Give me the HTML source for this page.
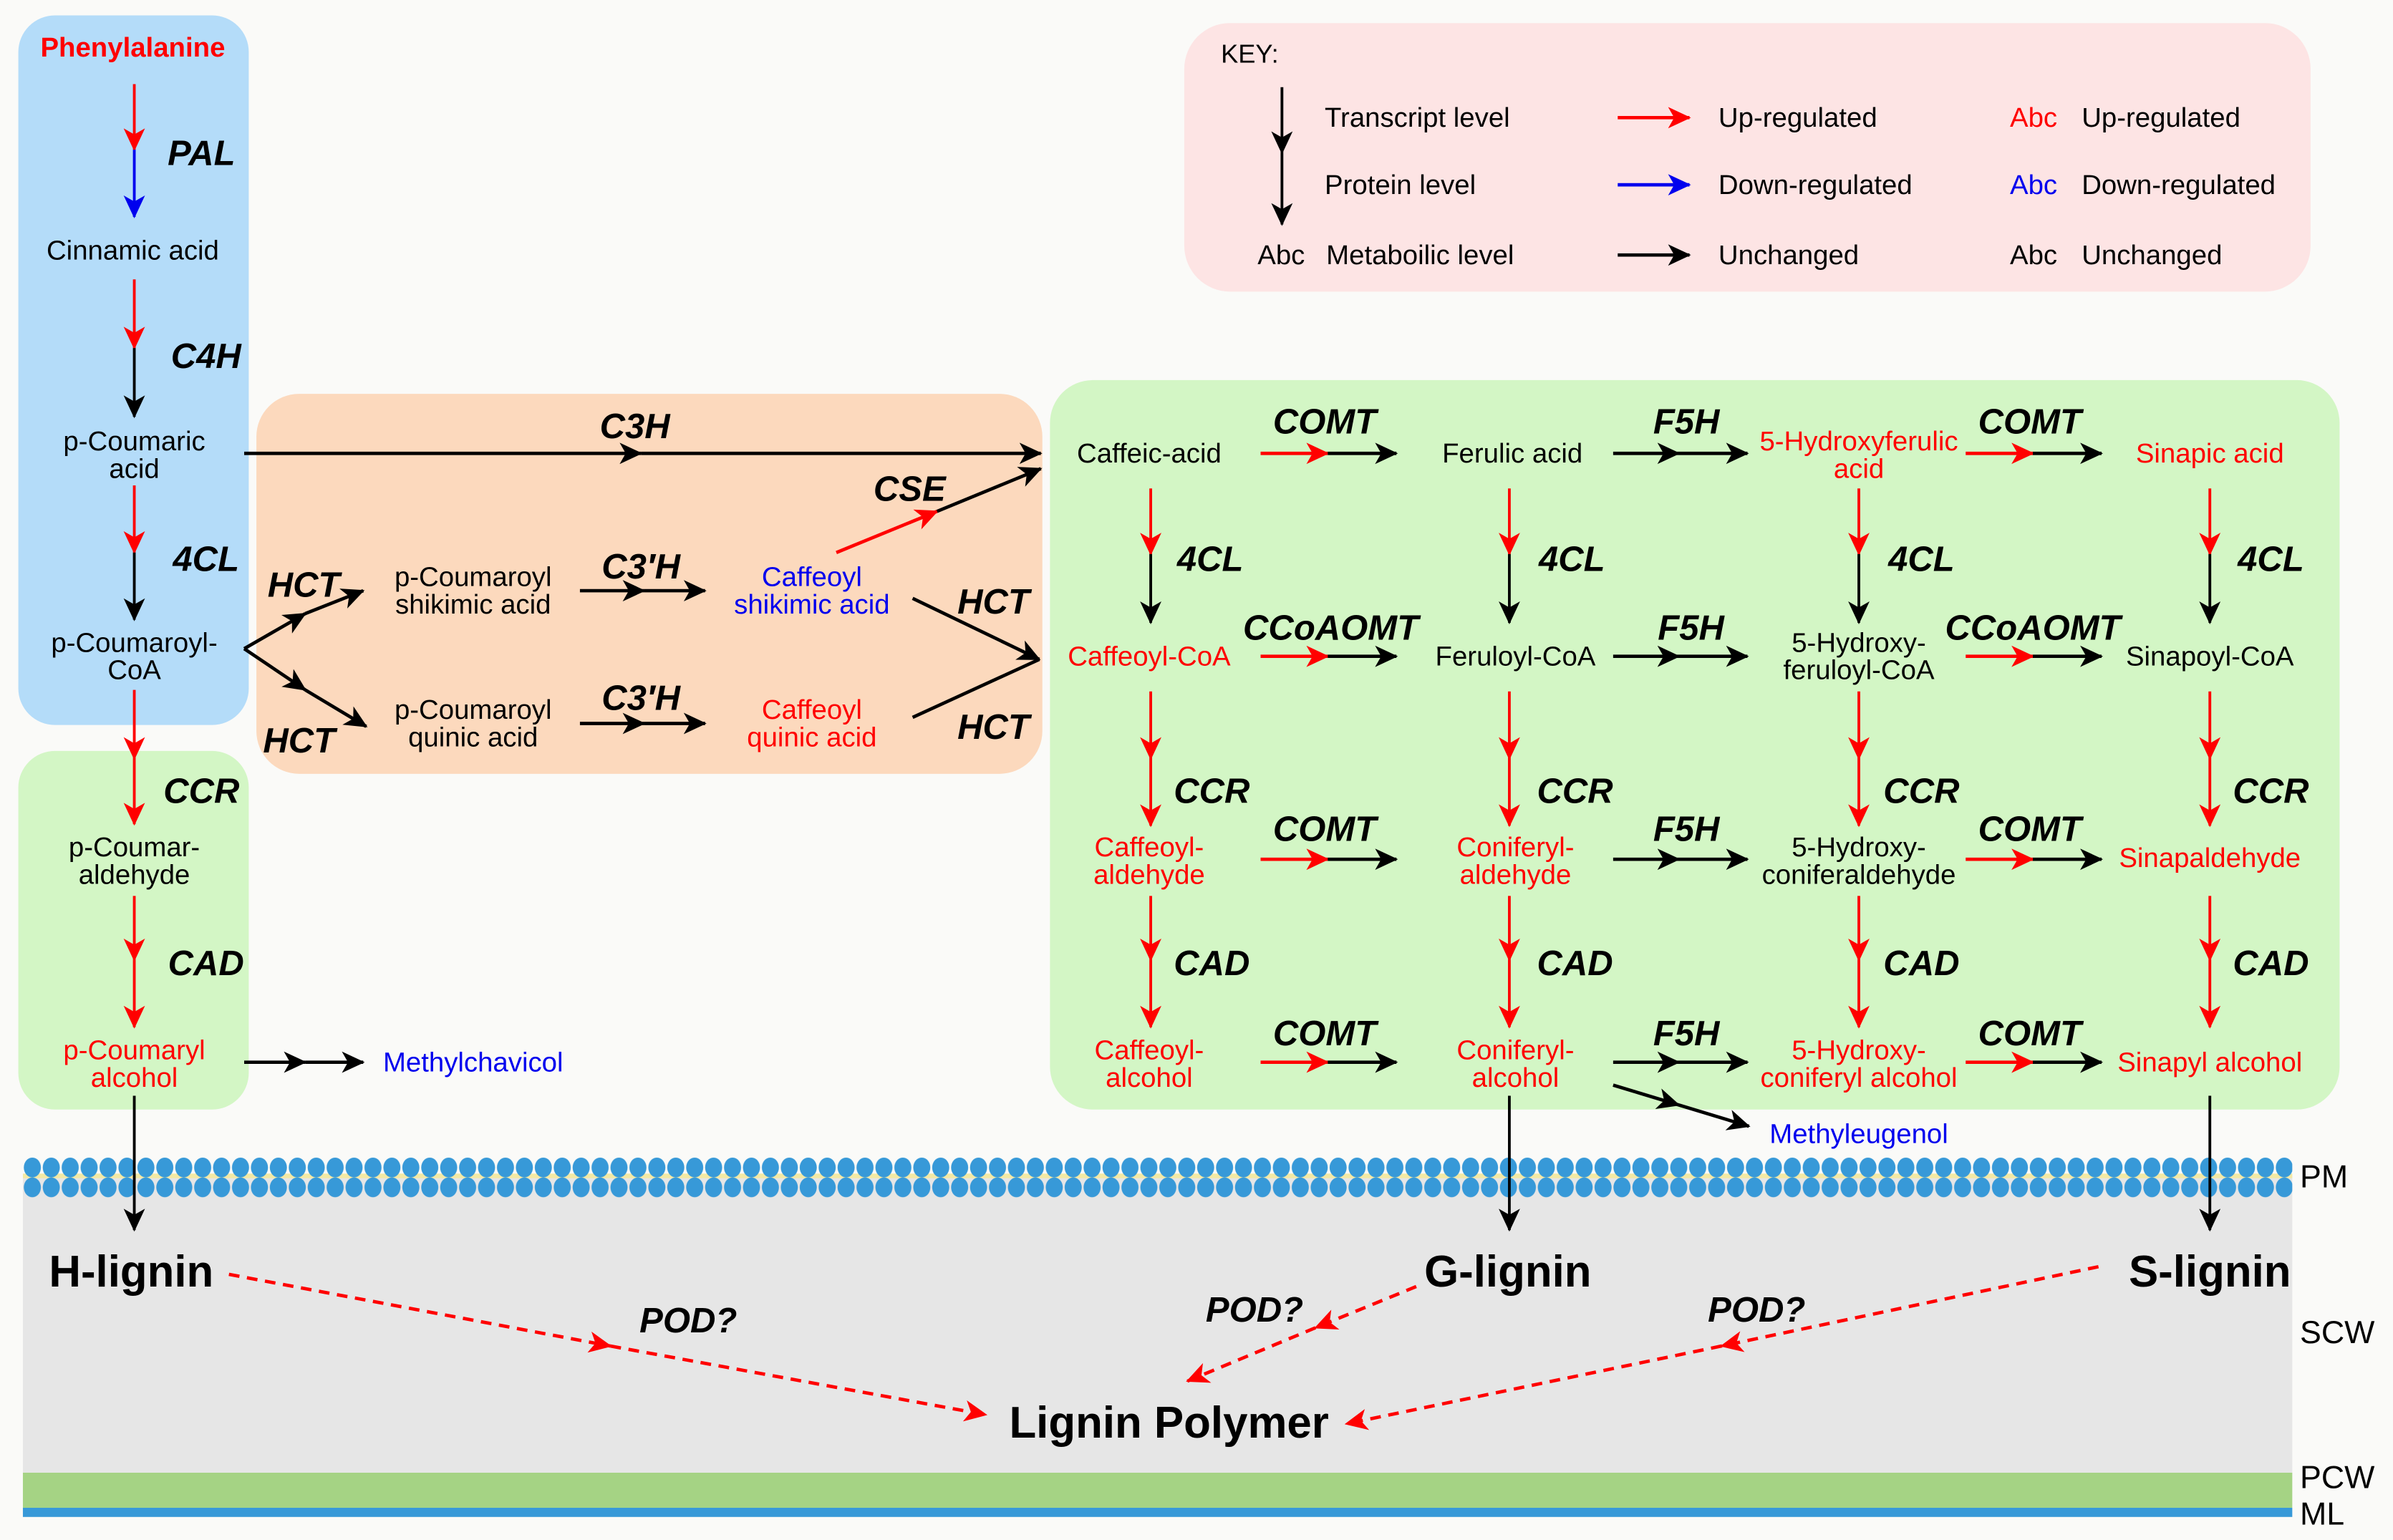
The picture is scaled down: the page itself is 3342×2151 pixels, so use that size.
<!DOCTYPE html>
<html><head><meta charset="utf-8"><style>
html,body{margin:0;padding:0;background:#fafaf8}
svg{display:block}
text{font-family:"Liberation Sans",Arial,sans-serif;text-anchor:middle}
.n{font-size:18px}
.e{font-size:23px;font-weight:bold;font-style:italic}
.r{fill:#f00}.b{fill:#0000ee}
.k{font-size:18px;text-anchor:start}
.L{font-size:29px;font-weight:bold}
.lab{font-size:21px;text-anchor:start}
.a{stroke-width:2.2;fill:none}
.v{stroke-width:1.8;fill:none}
</style></head><body>
<svg width="3342" height="2151" viewBox="0 0 1568 1009" xmlns="http://www.w3.org/2000/svg">
<defs>
<marker id="mk" markerUnits="userSpaceOnUse" markerWidth="20" markerHeight="16" refX="14" refY="7" orient="auto"><path d="M0,0 L15,7 L0,14 L4,7 z" fill="#000"/></marker>
<marker id="mr" markerUnits="userSpaceOnUse" markerWidth="20" markerHeight="16" refX="14" refY="7" orient="auto"><path d="M0,0 L15,7 L0,14 L4,7 z" fill="#f00"/></marker>
<marker id="mb" markerUnits="userSpaceOnUse" markerWidth="20" markerHeight="16" refX="14" refY="7" orient="auto"><path d="M0,0 L15,7 L0,14 L4,7 z" fill="#0000ee"/></marker>
<pattern id="mem" x="15" y="0" width="12.4" height="1009" patternUnits="userSpaceOnUse">
<ellipse cx="6.2" cy="765" rx="5.6" ry="6.5" fill="#3799d8"/>
<ellipse cx="6.2" cy="778" rx="5.6" ry="6.5" fill="#3799d8"/>
</pattern>
</defs>
<rect x="0" y="0" width="1568" height="1009" fill="#fafaf8"/>
<!-- cell wall layers -->
<rect x="15" y="770" width="1487" height="195" fill="#e6e6e6"/>
<rect x="15" y="965" width="1487" height="23" fill="#a5d384"/>
<rect x="15" y="988" width="1487" height="6" fill="#3799d8"/>
<rect x="15" y="769" width="1487" height="3" fill="#f3e9a4"/>
<rect x="15" y="757" width="1487" height="29" fill="url(#mem)"/>
<text class="lab" x="1507" y="778">PM</text>
<text class="lab" x="1507" y="880">SCW</text>
<text class="lab" x="1507" y="975">PCW</text>
<text class="lab" x="1507" y="999">ML</text>

<!-- boxes -->
<rect x="12" y="10" width="151" height="465" rx="24" fill="#b4dcf9"/>
<rect x="12" y="492" width="151" height="235" rx="24" fill="#d3f6c5"/>
<rect x="168" y="258" width="515" height="249" rx="28" fill="#fcd9bd"/>
<rect x="688" y="249" width="845" height="478" rx="28" fill="#d3f6c5"/>
<rect x="776" y="15" width="738" height="176" rx="30" fill="#fde4e4"/>

<!-- KEY -->
<text class="k" x="800" y="41" style="font-size:17px">KEY:</text>
<line x1="840" y1="57" x2="840" y2="100" stroke="#000" class="v" marker-end="url(#mk)"/>
<line x1="840" y1="100" x2="840" y2="147" stroke="#000" class="v" marker-end="url(#mk)"/>
<text class="k" x="868" y="83">Transcript  level</text>
<text class="k" x="868" y="127">Protein level</text>
<text class="k" x="824" y="173">Abc</text>
<text class="k" x="869" y="173">Metaboilic level</text>
<line x1="1060" y1="77" x2="1107" y2="77" stroke="#f00" class="a" marker-end="url(#mr)"/>
<line x1="1060" y1="121" x2="1107" y2="121" stroke="#0000ee" class="a" marker-end="url(#mb)"/>
<line x1="1060" y1="167" x2="1107" y2="167" stroke="#000" class="a" marker-end="url(#mk)"/>
<text class="k" x="1126" y="83">Up-regulated</text>
<text class="k" x="1126" y="127">Down-regulated</text>
<text class="k" x="1126" y="173">Unchanged</text>
<text class="k r" x="1317" y="83">Abc</text>
<text class="k b" x="1317" y="127">Abc</text>
<text class="k" x="1317" y="173">Abc</text>
<text class="k" x="1364" y="83">Up-regulated</text>
<text class="k" x="1364" y="127">Down-regulated</text>
<text class="k" x="1364" y="173">Unchanged</text>

<!-- left column -->
<text class="n r" x="87" y="37" style="font-weight:bold">Phenylalanine</text>
<line x1="88" y1="55" x2="88" y2="98" stroke="#f00" class="v" marker-end="url(#mr)"/>
<line x1="88" y1="98" x2="88" y2="142" stroke="#0000ee" class="v" marker-end="url(#mb)"/>
<text class="e" x="132" y="108">PAL</text>
<text class="n" x="87" y="170">Cinnamic acid</text>
<line x1="88" y1="183" x2="88" y2="228" stroke="#f00" class="v" marker-end="url(#mr)"/>
<line x1="88" y1="228" x2="88" y2="273" stroke="#000" class="v" marker-end="url(#mk)"/>
<text class="e" x="135" y="241">C4H</text>
<text class="n" x="88" y="295">p-Coumaric</text>
<text class="n" x="88" y="313">acid</text>
<line x1="88" y1="318" x2="88" y2="362" stroke="#f00" class="v" marker-end="url(#mr)"/>
<line x1="88" y1="362" x2="88" y2="406" stroke="#000" class="v" marker-end="url(#mk)"/>
<text class="e" x="135" y="374">4CL</text>
<text class="n" x="88" y="427">p-Coumaroyl-</text>
<text class="n" x="88" y="445">CoA</text>
<line x1="88" y1="452" x2="88" y2="497" stroke="#f00" class="v" marker-end="url(#mr)"/>
<line x1="88" y1="497" x2="88" y2="540" stroke="#f00" class="v" marker-end="url(#mr)"/>
<text class="e" x="132" y="526">CCR</text>
<text class="n" x="88" y="561">p-Coumar-</text>
<text class="n" x="88" y="579">aldehyde</text>
<line x1="88" y1="587" x2="88" y2="629" stroke="#f00" class="v" marker-end="url(#mr)"/>
<line x1="88" y1="629" x2="88" y2="673" stroke="#f00" class="v" marker-end="url(#mr)"/>
<text class="e" x="135" y="639">CAD</text>
<text class="n r" x="88" y="694">p-Coumaryl</text>
<text class="n r" x="88" y="712">alcohol</text>
<line x1="160" y1="696" x2="200" y2="696" stroke="#000" class="a" marker-end="url(#mk)"/>
<line x1="200" y1="696" x2="238" y2="696" stroke="#000" class="a" marker-end="url(#mk)"/>
<text class="n b" x="310" y="702">Methylchavicol</text>
<line x1="88" y1="718" x2="88" y2="806" stroke="#000" class="v" marker-end="url(#mk)"/>
<text class="L" x="86" y="843">H-lignin</text>

<!-- orange region -->
<line x1="160" y1="297" x2="420" y2="297" stroke="#000" class="a" marker-end="url(#mk)"/>
<line x1="420" y1="297" x2="682" y2="297" stroke="#000" class="a" marker-end="url(#mk)"/>
<text class="e" x="416" y="287">C3H</text>
<line x1="160" y1="425" x2="200" y2="402" stroke="#000" class="a" marker-end="url(#mk)"/>
<line x1="200" y1="402" x2="238" y2="387" stroke="#000" class="a" marker-end="url(#mk)"/>
<line x1="160" y1="425" x2="200" y2="452" stroke="#000" class="a" marker-end="url(#mk)"/>
<line x1="200" y1="452" x2="240" y2="476" stroke="#000" class="a" marker-end="url(#mk)"/>
<text class="e" x="199" y="391">HCT</text>
<text class="e" x="196" y="493">HCT</text>
<text class="n" x="310" y="384">p-Coumaroyl</text>
<text class="n" x="310" y="402">shikimic acid</text>
<text class="n" x="310" y="471">p-Coumaroyl</text>
<text class="n" x="310" y="489">quinic acid</text>
<line x1="380" y1="387" x2="422" y2="387" stroke="#000" class="a" marker-end="url(#mk)"/>
<line x1="422" y1="387" x2="462" y2="387" stroke="#000" class="a" marker-end="url(#mk)"/>
<line x1="380" y1="474" x2="422" y2="474" stroke="#000" class="a" marker-end="url(#mk)"/>
<line x1="422" y1="474" x2="462" y2="474" stroke="#000" class="a" marker-end="url(#mk)"/>
<text class="e" x="420" y="379">C3′H</text>
<text class="e" x="420" y="465">C3′H</text>
<text class="n b" x="532" y="384">Caffeoyl</text>
<text class="n b" x="532" y="402">shikimic acid</text>
<text class="n r" x="532" y="471">Caffeoyl</text>
<text class="n r" x="532" y="489">quinic acid</text>
<line x1="548" y1="362" x2="614" y2="335" stroke="#f00" class="a" marker-end="url(#mr)"/>
<line x1="614" y1="335" x2="682" y2="307" stroke="#000" class="a" marker-end="url(#mk)"/>
<text class="e" x="596" y="328">CSE</text>
<line x1="598" y1="392" x2="681" y2="432" stroke="#000" class="a" marker-end="url(#mk)"/>
<line x1="598" y1="470" x2="681" y2="432" stroke="#000" class="a"/>
<text class="e" x="651" y="402">HCT</text>
<text class="e" x="651" y="484">HCT</text>

<!-- right green: row 1 -->
<text class="n" x="753" y="303">Caffeic-acid</text>
<text class="n" x="991" y="303">Ferulic acid</text>
<text class="n r" x="1218" y="295">5-Hydroxyferulic</text>
<text class="n r" x="1218" y="313">acid</text>
<text class="n r" x="1448" y="303">Sinapic acid</text>
<!-- row 2 -->
<text class="n r" x="753" y="436">Caffeoyl-CoA</text>
<text class="n" x="993" y="436">Feruloyl-CoA</text>
<text class="n" x="1218" y="427">5-Hydroxy-</text>
<text class="n" x="1218" y="445">feruloyl-CoA</text>
<text class="n" x="1448" y="436">Sinapoyl-CoA</text>
<!-- row 3 -->
<text class="n r" x="753" y="561">Caffeoyl-</text>
<text class="n r" x="753" y="579">aldehyde</text>
<text class="n r" x="993" y="561">Coniferyl-</text>
<text class="n r" x="993" y="579">aldehyde</text>
<text class="n" x="1218" y="561">5-Hydroxy-</text>
<text class="n" x="1218" y="579">coniferaldehyde</text>
<text class="n r" x="1448" y="568">Sinapaldehyde</text>
<!-- row 4 -->
<text class="n r" x="753" y="694">Caffeoyl-</text>
<text class="n r" x="753" y="712">alcohol</text>
<text class="n r" x="993" y="694">Coniferyl-</text>
<text class="n r" x="993" y="712">alcohol</text>
<text class="n r" x="1218" y="694">5-Hydroxy-</text>
<text class="n r" x="1218" y="712">coniferyl alcohol</text>
<text class="n r" x="1448" y="702">Sinapyl alcohol</text>

<!-- horizontal arrows rows -->
<g>
<line x1="826" y1="297" x2="870" y2="297" stroke="#f00" class="a" marker-end="url(#mr)"/><line x1="870" y1="297" x2="915" y2="297" stroke="#000" class="a" marker-end="url(#mk)"/>
<line x1="1057" y1="297" x2="1100" y2="297" stroke="#000" class="a" marker-end="url(#mk)"/><line x1="1100" y1="297" x2="1145" y2="297" stroke="#000" class="a" marker-end="url(#mk)"/>
<line x1="1288" y1="297" x2="1332" y2="297" stroke="#f00" class="a" marker-end="url(#mr)"/><line x1="1332" y1="297" x2="1377" y2="297" stroke="#000" class="a" marker-end="url(#mk)"/>

<line x1="826" y1="430" x2="870" y2="430" stroke="#f00" class="a" marker-end="url(#mr)"/><line x1="870" y1="430" x2="915" y2="430" stroke="#000" class="a" marker-end="url(#mk)"/>
<line x1="1057" y1="430" x2="1100" y2="430" stroke="#000" class="a" marker-end="url(#mk)"/><line x1="1100" y1="430" x2="1145" y2="430" stroke="#000" class="a" marker-end="url(#mk)"/>
<line x1="1288" y1="430" x2="1332" y2="430" stroke="#f00" class="a" marker-end="url(#mr)"/><line x1="1332" y1="430" x2="1377" y2="430" stroke="#000" class="a" marker-end="url(#mk)"/>

<line x1="826" y1="563" x2="870" y2="563" stroke="#f00" class="a" marker-end="url(#mr)"/><line x1="870" y1="563" x2="915" y2="563" stroke="#000" class="a" marker-end="url(#mk)"/>
<line x1="1057" y1="563" x2="1100" y2="563" stroke="#000" class="a" marker-end="url(#mk)"/><line x1="1100" y1="563" x2="1145" y2="563" stroke="#000" class="a" marker-end="url(#mk)"/>
<line x1="1288" y1="563" x2="1332" y2="563" stroke="#f00" class="a" marker-end="url(#mr)"/><line x1="1332" y1="563" x2="1377" y2="563" stroke="#000" class="a" marker-end="url(#mk)"/>

<line x1="826" y1="696" x2="870" y2="696" stroke="#f00" class="a" marker-end="url(#mr)"/><line x1="870" y1="696" x2="915" y2="696" stroke="#000" class="a" marker-end="url(#mk)"/>
<line x1="1057" y1="696" x2="1100" y2="696" stroke="#000" class="a" marker-end="url(#mk)"/><line x1="1100" y1="696" x2="1145" y2="696" stroke="#000" class="a" marker-end="url(#mk)"/>
<line x1="1288" y1="696" x2="1332" y2="696" stroke="#f00" class="a" marker-end="url(#mr)"/><line x1="1332" y1="696" x2="1377" y2="696" stroke="#000" class="a" marker-end="url(#mk)"/>

<line x1="1057" y1="711" x2="1100" y2="724" stroke="#000" class="a" marker-end="url(#mk)"/><line x1="1100" y1="724" x2="1146" y2="738" stroke="#000" class="a" marker-end="url(#mk)"/>
</g>
<text class="n b" x="1218" y="749">Methyleugenol</text>
<text class="e" x="868" y="284">COMT</text><text class="e" x="1105" y="284">F5H</text><text class="e" x="1330" y="284">COMT</text>
<text class="e" x="872" y="419">CCoAOMT</text><text class="e" x="1108" y="419">F5H</text><text class="e" x="1332" y="419">CCoAOMT</text>
<text class="e" x="868" y="551">COMT</text><text class="e" x="1105" y="551">F5H</text><text class="e" x="1330" y="551">COMT</text>
<text class="e" x="868" y="685">COMT</text><text class="e" x="1105" y="685">F5H</text><text class="e" x="1330" y="685">COMT</text>

<!-- vertical arrows in right green -->
<g>
<line x1="754" y1="320" x2="754" y2="363" stroke="#f00" class="v" marker-end="url(#mr)"/><line x1="754" y1="363" x2="754" y2="408" stroke="#000" class="v" marker-end="url(#mk)"/>
<line x1="989" y1="320" x2="989" y2="363" stroke="#f00" class="v" marker-end="url(#mr)"/><line x1="989" y1="363" x2="989" y2="408" stroke="#000" class="v" marker-end="url(#mk)"/>
<line x1="1218" y1="320" x2="1218" y2="363" stroke="#f00" class="v" marker-end="url(#mr)"/><line x1="1218" y1="363" x2="1218" y2="408" stroke="#000" class="v" marker-end="url(#mk)"/>
<line x1="1448" y1="320" x2="1448" y2="363" stroke="#f00" class="v" marker-end="url(#mr)"/><line x1="1448" y1="363" x2="1448" y2="408" stroke="#000" class="v" marker-end="url(#mk)"/>

<line x1="754" y1="453" x2="754" y2="497" stroke="#f00" class="v" marker-end="url(#mr)"/><line x1="754" y1="497" x2="754" y2="541" stroke="#f00" class="v" marker-end="url(#mr)"/>
<line x1="989" y1="453" x2="989" y2="497" stroke="#f00" class="v" marker-end="url(#mr)"/><line x1="989" y1="497" x2="989" y2="541" stroke="#f00" class="v" marker-end="url(#mr)"/>
<line x1="1218" y1="453" x2="1218" y2="497" stroke="#f00" class="v" marker-end="url(#mr)"/><line x1="1218" y1="497" x2="1218" y2="541" stroke="#f00" class="v" marker-end="url(#mr)"/>
<line x1="1448" y1="453" x2="1448" y2="497" stroke="#f00" class="v" marker-end="url(#mr)"/><line x1="1448" y1="497" x2="1448" y2="541" stroke="#f00" class="v" marker-end="url(#mr)"/>

<line x1="754" y1="587" x2="754" y2="629" stroke="#f00" class="v" marker-end="url(#mr)"/><line x1="754" y1="629" x2="754" y2="673" stroke="#f00" class="v" marker-end="url(#mr)"/>
<line x1="989" y1="587" x2="989" y2="629" stroke="#f00" class="v" marker-end="url(#mr)"/><line x1="989" y1="629" x2="989" y2="673" stroke="#f00" class="v" marker-end="url(#mr)"/>
<line x1="1218" y1="587" x2="1218" y2="629" stroke="#f00" class="v" marker-end="url(#mr)"/><line x1="1218" y1="629" x2="1218" y2="673" stroke="#f00" class="v" marker-end="url(#mr)"/>
<line x1="1448" y1="587" x2="1448" y2="629" stroke="#f00" class="v" marker-end="url(#mr)"/><line x1="1448" y1="629" x2="1448" y2="673" stroke="#f00" class="v" marker-end="url(#mr)"/>

<line x1="989" y1="718" x2="989" y2="806" stroke="#000" class="v" marker-end="url(#mk)"/>
<line x1="1448" y1="718" x2="1448" y2="806" stroke="#000" class="v" marker-end="url(#mk)"/>
</g>
<text class="e" x="793" y="374">4CL</text><text class="e" x="1030" y="374">4CL</text><text class="e" x="1259" y="374">4CL</text><text class="e" x="1488" y="374">4CL</text>
<text class="e" x="794" y="526">CCR</text><text class="e" x="1032" y="526">CCR</text><text class="e" x="1259" y="526">CCR</text><text class="e" x="1488" y="526">CCR</text>
<text class="e" x="794" y="639">CAD</text><text class="e" x="1032" y="639">CAD</text><text class="e" x="1259" y="639">CAD</text><text class="e" x="1488" y="639">CAD</text>

<!-- lignins -->
<text class="L" x="988" y="843">G-lignin</text>
<text class="L" x="1448" y="843">S-lignin</text>
<text class="L" x="766" y="942">Lignin Polymer</text>
<g stroke="#f00" stroke-width="2.2" stroke-dasharray="7,5" fill="none">
<line x1="150" y1="835" x2="400" y2="882" marker-end="url(#mr)"/>
<line x1="400" y1="882" x2="646" y2="927" marker-end="url(#mr)"/>
<line x1="928" y1="843" x2="862" y2="870" marker-end="url(#mr)"/>
<line x1="862" y1="870" x2="778" y2="905" marker-end="url(#mr)"/>
<line x1="1375" y1="830" x2="1128" y2="882" marker-end="url(#mr)"/>
<line x1="1128" y1="882" x2="882" y2="933" marker-end="url(#mr)"/>
</g>
<text class="e" x="451" y="873">POD?</text>
<text class="e" x="822" y="866">POD?</text>
<text class="e" x="1151" y="866">POD?</text>
</svg>
</body></html>
